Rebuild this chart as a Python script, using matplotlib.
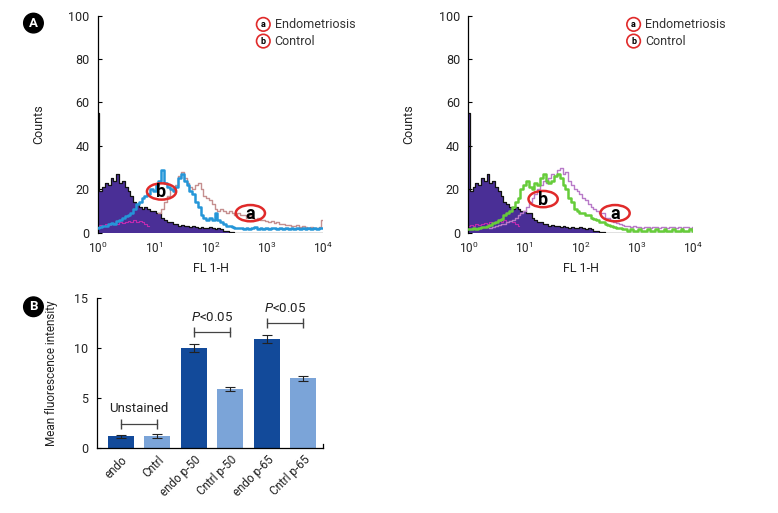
import numpy as np
import matplotlib
matplotlib.use("Agg")
import matplotlib.pyplot as plt
from matplotlib.patches import Ellipse

plt.rcParams['font.family'] = ['Roboto', 'DejaVu Sans']
plt.rcParams['mathtext.fontset'] = 'custom'
plt.rcParams['mathtext.rm'] = 'Roboto'
plt.rcParams['mathtext.it'] = 'Roboto:italic'

# flow histograms, x in log10(FL 1-H), step 0.05 decade (0 .. 4)
logx = np.arange(81) * 0.05

unstained = [55, 19, 21, 23, 22, 25, 24, 27, 23, 24,
             21, 19, 17, 14, 13, 12, 11, 12, 11, 10,
             10, 9, 9, 7, 6, 5, 5, 4, 4, 3,
             3.5, 3, 3, 2.5, 3, 2.5, 2, 2.5, 2, 2,
             2.5, 2, 1.5, 2, 1.5, 1, 1, 0.5, 0.5, 0,
             0, 0, 0, 0, 0, 0, 0, 0, 0, 0,
             0, 0, 0, 0, 0, 0, 0, 0, 0, 0,
             0, 0, 0, 0, 0, 0, 0, 0, 0, 0, 0]

magenta_low = [3, 3.5, 3, 4, 3.5, 4, 4.5, 4, 5, 4.5,
               5, 5.5, 5, 6, 5, 5.5, 5, 4, 3]

control_left = [2, 2.5, 3, 3, 4, 4.5, 4, 5.5, 6, 7,
                7.5, 8, 9, 11, 13, 14, 16, 17, 18, 20,
                19, 22, 24, 29, 23, 21, 20, 19, 21, 25,
                27, 24, 22, 19, 18, 14, 12, 8, 7, 6,
                7, 6, 9, 6, 5, 4, 3, 3, 2.5, 2,
                2, 2, 1.5, 2, 1.5, 2, 2.5, 1.5, 2, 1.5,
                2, 1.5, 2, 2, 1.5, 2, 1.5, 2, 1.5, 2,
                1.5, 2, 1.5, 2, 1.5, 2, 1.5, 2, 1.5, 2, 2]

endo_left = [np.nan] * 22 + [
             9, 11, 14, 17, 20, 19, 22, 26,
             28, 25, 23, 21, 20, 22, 23, 20, 17, 16,
             15, 13, 11, 10, 11, 10, 9, 10, 9, 8,
             9, 8, 8, 7, 8, 7, 6.5, 7, 6, 6,
             5.5, 5, 5.5, 4.5, 5, 4, 4, 3.5, 3.5, 3,
             3, 3.5, 2.5, 3, 2.5, 2, 2.5, 2, 2, 2.5, 6]

control_right = [1.5, 1.5, 2, 1.5, 2, 2.5, 2.5, 3, 3.5, 4.5,
                 5, 6, 6.5, 8, 9, 10, 12, 14, 16, 20,
                 22, 24, 21, 20, 23, 22, 25, 27, 24, 23,
                 24, 26, 27, 25, 22, 20, 16, 14, 11, 10,
                 9, 9, 8, 8, 7, 6.5, 6, 5, 5, 4,
                 3.5, 3, 2.5, 2, 2, 1.5, 1.5, 1, 1.5, 1,
                 1, 1.5, 1, 1, 1.5, 1, 1, 1.5, 1, 1,
                 1.5, 1, 1, 1.5, 1, 1, 1.5, 1, 1, 1.5, 1]

endo_right = [np.nan] * 8 + [
              2, 2.5,
              3, 3.5, 4, 4, 5, 5.5, 6, 7, 8, 9,
              10, 12, 14, 16, 18, 20, 22, 24, 23, 25,
              27, 26, 29, 30, 27, 28, 24, 22, 20, 19,
              18, 16, 15, 13, 12, 11, 10, 9, 9, 7,
              7, 6, 5, 4.5, 4, 3.5, 3, 3, 2.5, 3,
              2.5, 2.5, 2, 2.5, 2.5, 2, 2.5, 2.5, 2, 2.5,
              2.5, 2, 2.5, 2.5, 2, 2.5, 2, 2.5, 2.5, 2, 2.5]

# ellipse marker positions (log10 x, count)
b_pos = [(1.13, 19), (1.33, 15.5)]
a_pos = [(2.71, 9), (2.61, 9)]

# bar chart
bar_names = ['endo', 'Cntrl', 'endo p-50', 'Cntrl p-50', 'endo p-65', 'Cntrl p-65']
mfi = [1.2, 1.2, 10.0, 5.9, 10.9, 7.0]
mfi_err = [0.15, 0.18, 0.4, 0.22, 0.38, 0.25]

indigo = '#4a2f96'
dark_bar = '#124a9a'
light_bar = '#7ba4d8'
red = '#e02a2a'
txt_col = '#222222'

fig = plt.figure(figsize=(7.78, 5.13), dpi=100)

panels = [
    ([0.126, 0.5464, 0.289, 0.423], control_left, '#2596d8', endo_left, '#c58f8f', 0),
    ([0.602, 0.5464, 0.289, 0.423], control_right, '#66cc3a', endo_right, '#b87ac8', 1),
]

for rect, ctl, ctl_col, endo, endo_col, k in panels:
    ax = fig.add_axes(rect)
    ax.fill_between(logx, unstained, step='mid', color=indigo, lw=0, zorder=1)
    ax.plot(logx, unstained, drawstyle='steps-mid', color='#111111', lw=0.9, zorder=2)
    ax.plot(logx[:len(magenta_low)], magenta_low, drawstyle='steps-mid',
            color='#c02ab0', lw=0.8, zorder=2)
    ax.plot(logx, endo, drawstyle='steps-mid', color=endo_col, lw=1.0, zorder=3)
    ax.plot(logx, ctl, drawstyle='steps-mid', color=ctl_col, lw=1.8, zorder=4)

    for (px, py), letter in [(b_pos[k], 'b'), (a_pos[k], 'a')]:
        ax.add_patch(Ellipse((px, py), 0.52, 7.5, fill=False, ec=red, lw=1.8, zorder=6))
        ax.text(px, py - 0.3, letter, ha='center', va='center', fontsize=13,
                fontweight='bold', color='black', zorder=7)

    ax.set_xlim(0, 4)
    ax.set_ylim(0, 100)
    ax.set_xticks([0, 1, 2, 3, 4])
    ax.set_xticklabels([r'$10^{%d}$' % i for i in range(5)], fontsize=8.5, color=txt_col)
    ax.set_yticks([0, 20, 40, 60, 80, 100])
    ax.tick_params(axis='y', direction='in', length=3, labelsize=9, pad=6,
                   labelcolor=txt_col)
    ax.tick_params(axis='x', length=0, pad=6)
    for s in ['top', 'right', 'bottom']:
        ax.spines[s].set_visible(False)
    ax.spines['left'].set_linewidth(0.9)
    ax.set_ylabel('Counts', fontsize=9, labelpad=17, color=txt_col)
    ax.set_xlabel('FL 1-H', fontsize=9, labelpad=4, color=txt_col)

    # legend with circled letters
    for j, (letter, name) in enumerate([('a', 'Endometriosis'), ('b', 'Control')]):
        yy = 0.96 - j * 0.077
        ax.text(0.735, yy, letter, transform=ax.transAxes, ha='center', va='center',
                fontsize=6.5, fontweight='bold',
                bbox=dict(boxstyle='circle,pad=0.25', fc='white', ec=red, lw=1.2))
        ax.text(0.785, yy, name, transform=ax.transAxes, ha='left', va='center',
                fontsize=9, color='#333333')

# panel B bar chart
axb = fig.add_axes([0.1243, 0.1267, 0.291, 0.2924])
xpos = np.arange(len(bar_names))
cols = [dark_bar, light_bar] * 3
axb.bar(xpos, mfi, width=0.71, color=cols, yerr=mfi_err,
        error_kw=dict(ecolor='#222222', elinewidth=0.8, capsize=3.5, capthick=0.8))
axb.set_xlim(-0.66, 5.54)
axb.set_ylim(0, 15)
axb.set_yticks([0, 5, 10, 15])
axb.set_xticks(xpos)
axb.set_xticklabels(bar_names, rotation=45, ha='right', rotation_mode='anchor',
                    fontsize=8.5, color=txt_col)
axb.tick_params(axis='y', direction='in', length=3, labelsize=9, pad=6, labelcolor=txt_col)
axb.tick_params(axis='x', length=0, pad=4)
axb.spines['top'].set_visible(False)
axb.spines['right'].set_visible(False)
axb.spines['left'].set_linewidth(0.9)
axb.spines['bottom'].set_linewidth(0.9)
axb.plot([5.54, 5.54], [0, 0.4], color='black', lw=0.9, clip_on=False)
axb.set_ylabel('Mean fluorescence intensity', fontsize=8.5, labelpad=12, color=txt_col)

brackets = [(0, 1, 2.4, 'Unstained', 4.0), (2, 3, 11.6, r'$P$<0.05', 13.1),
            (4, 5, 12.5, r'$P$<0.05', 14.0)]
for x0, x1, yb, label, yt in brackets:
    axb.plot([x0, x1], [yb, yb], color='#444444', lw=0.9, marker='|', markersize=7)
    axb.text((x0 + x1) / 2, yt, label, ha='center', va='center', fontsize=9.5, color=txt_col)

# panel badges
for txt, yy in [('A', 0.955), ('B', 0.402)]:
    fig.text(0.043, yy, txt, ha='center', va='center', color='white', fontsize=9.5,
             fontweight='bold',
             bbox=dict(boxstyle='circle,pad=0.25', fc='black', ec='black'))

fig.savefig('out.png', dpi=100)
